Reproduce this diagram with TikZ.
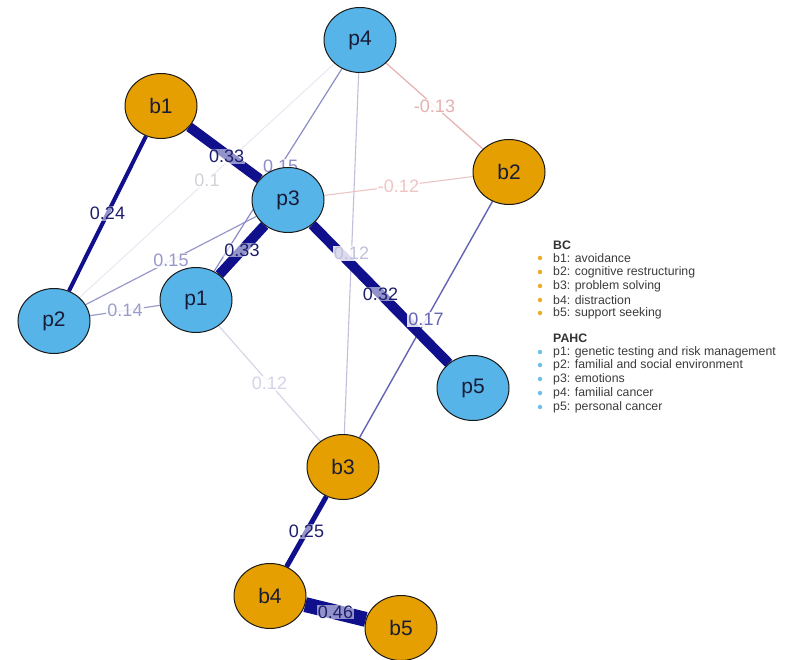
\documentclass[tikz,border=0pt]{standalone}
\usepackage{fontspec}
\setmainfont{Liberation Sans}
\usetikzlibrary{shapes.geometric}
\pgfdeclarelayer{bg}
\pgfdeclarelayer{edges}
\pgfdeclarelayer{labels}
\pgfsetlayers{bg,edges,labels,main}
\definecolor{nblue}{HTML}{56B4E9}
\definecolor{norange}{HTML}{E69F00}
\definecolor{navy}{RGB}{16,16,140}
\definecolor{labnavy}{RGB}{30,30,110}
\definecolor{e17}{RGB}{100,100,180}
\definecolor{e15a}{RGB}{140,140,200}
\definecolor{e15b}{RGB}{152,152,204}
\definecolor{e14}{RGB}{156,156,204}
\definecolor{e12a}{RGB}{192,192,220}
\definecolor{e12b}{RGB}{212,212,230}
\definecolor{e10}{RGB}{232,232,242}
\definecolor{n13}{RGB}{230,176,176}
\definecolor{n12}{RGB}{238,196,196}
\definecolor{legtext}{RGB}{60,60,60}
\tikzset{
  pnode/.style={ellipse, draw=black!90, line width=1pt, fill=nblue, minimum width=72pt, minimum height=65pt, inner sep=0pt, font=\fontsize{21}{21}\selectfont, text={rgb,255:red,25;green,28;blue,55}},
  bnode/.style={pnode, fill=norange},
  elab/.style={fill=white, fill opacity=0.85, text opacity=1, inner sep=1pt, font=\fontsize{18}{18}\selectfont},
  nlab/.style={elab, fill opacity=0.55, text=labnavy},
  edgeline/.style={line cap=butt},
  legdot/.style={circle, inner sep=0pt, minimum size=4.5pt},
  legtxt/.style={anchor=west, inner sep=0pt, font=\fontsize{12.3}{12.3}\selectfont, text=legtext},
  leghead/.style={legtxt, font=\fontsize{12.3}{12.3}\selectfont\bfseries, text=black!80}
}
\begin{document}
\begin{tikzpicture}[x=1pt,y=-1pt]
\useasboundingbox (0,0) rectangle (787,660);
\begin{pgfonlayer}{bg}
\fill[white] (0,0) rectangle (787,660);
\end{pgfonlayer}
% nodes
\node[pnode] (p4) at (360,40) {p4};
\node[bnode] (b1) at (161,106) {b1};
\node[bnode] (b2) at (509,172) {b2};
\node[pnode] (p3) at (288,200) {p3};
\node[pnode] (p2) at (54,321) {p2};
\node[pnode] (p1) at (196,300) {p1};
\node[pnode] (p5) at (473,388) {p5};
\node[bnode] (b3) at (343,467) {b3};
\node[bnode] (b4) at (270,596) {b4};
\node[bnode] (b5) at (401,628) {b5};
% edges
\begin{pgfonlayer}{edges}
\draw[edgeline, line width=1pt, draw=e10] (p4) -- (p2);
\draw[edgeline, line width=1.1pt, draw=e12b] (p1) -- (b3);
\draw[edgeline, line width=1.1pt, draw=e12a] (p4) -- (b3);
\draw[edgeline, line width=1.1pt, draw=n12] (p3) -- (b2);
\draw[edgeline, line width=1.2pt, draw=n13] (p4) -- (b2);
\draw[edgeline, line width=1.2pt, draw=e14] (p2) -- (p1);
\draw[edgeline, line width=1.2pt, draw=e15b] (p2) -- (p3);
\draw[edgeline, line width=1.2pt, draw=e15a] (p4) -- (p1);
\draw[edgeline, line width=1.4pt, draw=e17] (b2) -- (b3);
\draw[edgeline, line width=4pt, draw=navy] (b1) -- (p2);
\draw[edgeline, line width=5pt, draw=navy] (b3) -- (b4);
\draw[edgeline, line width=10pt, draw=navy] (p3) -- (p5);
\draw[edgeline, line width=10pt, draw=navy] (b1) -- (p3);
\draw[edgeline, line width=10pt, draw=navy] (p3) -- (p1);
\draw[edgeline, line width=15pt, draw=navy] (b4) -- (b5);
\end{pgfonlayer}
% edge labels
\begin{pgfonlayer}{labels}
\path (p4) -- node[elab, text=e10!90!black]{0.1} (p2);
\path (p1) -- node[elab, text=e12b]{0.12} (b3);
\path (p4) -- node[elab, text=e12a]{0.12} (b3);
\path (p3) -- node[elab, text=n12]{-0.12} (b2);
\path (p4) -- node[elab, text=n13]{-0.13} (b2);
\path (p2) -- node[elab, text=e14]{0.14} (p1);
\path (p2) -- node[elab, text=e15b]{0.15} (p3);
\path (p4) -- node[elab, text=e15a, pos=0.48]{0.15} (p1);
\path (b2) -- node[elab, text=e17]{0.17} (b3);
\path (b1) -- node[nlab]{0.24} (p2);
\path (b3) -- node[nlab]{0.25} (b4);
\path (p3) -- node[nlab]{0.32} (p5);
\path (b1) -- node[nlab, pos=0.53, yshift=-2pt]{0.33} (p3);
\path (p3) -- node[nlab]{0.33} (p1);
\path (b4) -- node[nlab]{0.46} (b5);
\end{pgfonlayer}
% legend
\node[leghead] (lbc) at (553,245) {BC};
\node[legdot, fill=norange!85] (d1) at (540,258) {};
\node[legtxt] (t1) at (553,258) {b1: avoidance};
\node[legdot, fill=norange!85] (d2) at (540,272) {};
\node[legtxt] (t2) at (553,272) {b2: cognitive restructuring};
\node[legdot, fill=norange!85] (d3) at (540,286) {};
\node[legtxt] (t3) at (553,286) {b3: problem solving};
\node[legdot, fill=norange!85] (d4) at (540,300) {};
\node[legtxt] (t4) at (553,300) {b4: distraction};
\node[legdot, fill=norange!85] (d5) at (540,313) {};
\node[legtxt] (t5) at (553,313) {b5: support seeking};
\node[leghead] (lpahc) at (553,338) {PAHC};
\node[legdot, fill=nblue!85] (d6) at (540,352) {};
\node[legtxt] (t6) at (553,352) {p1: genetic testing and risk management};
\node[legdot, fill=nblue!85] (d7) at (540,365) {};
\node[legtxt] (t7) at (553,365) {p2: familial and social environment};
\node[legdot, fill=nblue!85] (d8) at (540,379) {};
\node[legtxt] (t8) at (553,379) {p3: emotions};
\node[legdot, fill=nblue!85] (d9) at (540,393) {};
\node[legtxt] (t9) at (553,393) {p4: familial cancer};
\node[legdot, fill=nblue!85] (d10) at (540,407) {};
\node[legtxt] (t10) at (553,407) {p5: personal cancer};
\end{tikzpicture}
\end{document}
